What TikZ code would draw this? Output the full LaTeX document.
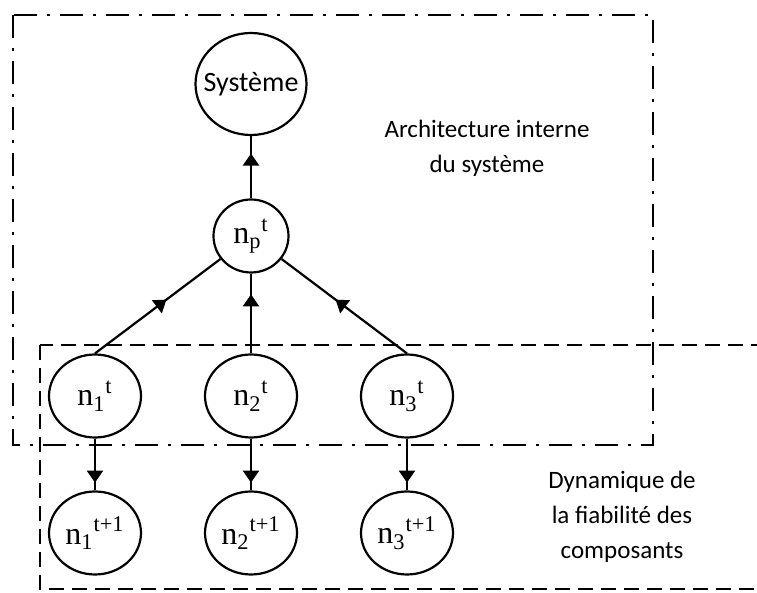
\documentclass[tikz,border=0pt]{standalone}
\usepackage{fontspec}
\setmainfont{Liberation Serif}
\newfontfamily\calibri{Carlito}
\usetikzlibrary{shapes.geometric,arrows.meta,decorations.markings}

\tikzset{
  noeud/.style={draw,ellipse,line width=1.1pt,inner sep=0pt,minimum width=46pt,minimum height=41.5pt,font=\fontsize{16}{17}\selectfont},
  fleche/.style={line width=1.1pt,postaction={decorate},decoration={markings,mark=at position #1 with {\arrow{Triangle[width=8pt,length=6pt]}}}},
  fleche/.default=0.7,
  legende/.style={align=center,font=\calibri\fontsize{12.5}{17.5}\selectfont}
}

\begin{document}
\begin{tikzpicture}[x=0.5pt,y=-0.5pt]
\useasboundingbox (0,0) rectangle (757,593);
% cadres
\draw[line width=1.4pt,dash pattern=on 11.5pt off 5pt on 1.5pt off 5pt] (13,15) rectangle (653,445);
\draw[line width=1.4pt,dash pattern=on 7.5pt off 4pt] (40,345) rectangle (780,589);
% noeuds
\node[noeud,inner xsep=-4.5pt,minimum width=55.5pt,minimum height=51pt,font=\calibri\fontsize{14}{16}\selectfont] (sys) at (251,84) {Système};
\node[noeud,minimum width=37.5pt,minimum height=36.5pt] (np) at (251,236) {n\textsubscript{p}\textsuperscript{t}};
\foreach \i/\x in {1/95,2/251,3/407} {
  \node[noeud] (n\i) at (\x,396) {n\textsubscript{\i}\textsuperscript{t}};
  \node[noeud] (m\i) at (\x,533) {n\textsubscript{\i}\textsuperscript{t+1}};
  \draw[fleche=0.85] (n\i) -- (m\i);
}
\draw[fleche=0.72] (np) -- (sys);
\draw[fleche=0.57] (n1.north) -- (np);
\draw[fleche=0.74] (n2) -- (np);
\draw[fleche=0.57] (n3.north) -- (np);
% textes
\node[legende] (archi) at (487,148) {Architecture interne\\du système};
\node[legende] (dyna) at (622,517) {Dynamique de\\la fiabilité des\\composants};
\end{tikzpicture}
\end{document}
